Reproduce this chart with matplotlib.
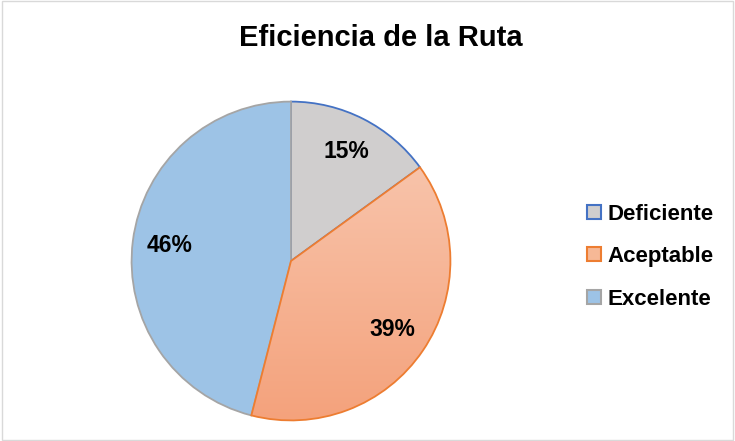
import numpy as np
import matplotlib
matplotlib.use("Agg")
import matplotlib.pyplot as plt
from matplotlib.colors import LinearSegmentedColormap
from matplotlib.patches import Rectangle

categories = ["Deficiente", "Aceptable", "Excelente"]
shares = [15, 39, 46]
fill_colors = ["#D0CECE", "#F6B896", "#9DC3E6"]
edge_colors = ["#4472C4", "#ED7D31", "#A5A5A5"]
title = "Eficiencia de la Ruta"

plt.rcParams["font.family"] = ["Liberation Sans", "DejaVu Sans"]

fig = plt.figure(figsize=(7.35, 4.41), dpi=100)
fig.patches.append(Rectangle((0.003, 0.003), 0.994, 0.994, transform=fig.transFigure,
                             fill=False, edgecolor="#D9D9D9", linewidth=1))

cx, cy, r = 291, 261, 161
ax = fig.add_axes([(cx - r) / 735, (441 - cy - r) / 441, 2 * r / 735, 2 * r / 441])
ax.set_aspect("equal")
ax.axis("off")

wedges, texts, autotexts = ax.pie(
    shares, colors=fill_colors, startangle=90, counterclock=False, radius=1,
    autopct="%d%%", pctdistance=0.77,
    wedgeprops=dict(linewidth=1.3), textprops=dict(fontsize=16.5, fontweight="bold", color="black"),
)
for w, ec in zip(wedges, edge_colors):
    w.set_edgecolor(ec)
    w.set_zorder(2)

# gradient fill for Aceptable
grad = LinearSegmentedColormap.from_list("acep", ["#F4A27C", "#F9CCB6"])
img = ax.imshow(np.linspace(0, 1, 256).reshape(-1, 1), cmap=grad, origin="lower",
                extent=(-1, 1, -1, 1), aspect="auto", zorder=2.5)
img.set_clip_path(wedges[1])
wedges[1].set_zorder(3)
wedges[1].set_facecolor("none")
for t in autotexts:
    t.set_zorder(4)
ax.set_xlim(-1.01, 1.01)
ax.set_ylim(-1.01, 1.01)

fig.text(0.518, 0.913, title, ha="center", va="center", fontsize=21, fontweight="bold")

handles = [Rectangle((0, 0), 1, 1, facecolor=fc, edgecolor=ec, linewidth=1.5)
           for fc, ec in zip(["#D0CECE", "#F6B896", "#9DC3E6"], edge_colors)]
fig.legend(handles, categories, loc="center left", bbox_to_anchor=(0.772, 0.418),
           frameon=False, prop=dict(size=16, weight="bold"), handlelength=0.6,
           handleheight=0.6, handletextpad=0.3, labelspacing=0.97)

fig.savefig("out.png", dpi=100)
